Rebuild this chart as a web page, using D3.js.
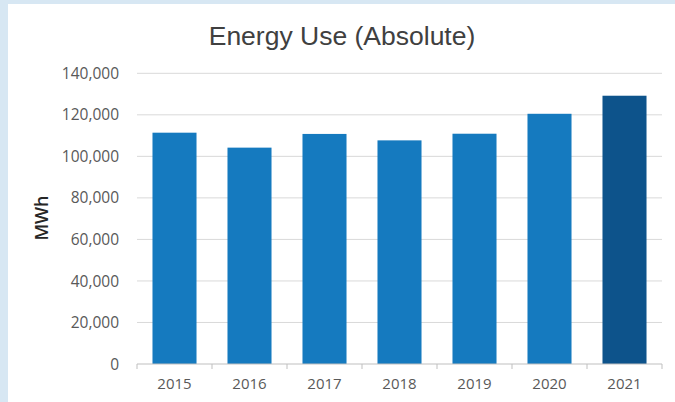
<!DOCTYPE html>
<html>
<head>
<meta charset="utf-8">
<script src="https://cdn.jsdelivr.net/npm/d3@7/dist/d3.min.js"></script>
<style>
  html, body { margin: 0; padding: 0; background: #d7e7f3; }
  svg { display: block; }
</style>
</head>
<body>
<svg id="chart" width="675" height="402"></svg>
<script>
const years = ["2015", "2016", "2017", "2018", "2019", "2020", "2021"];
const energyMWh = [111400, 104200, 110800, 107700, 110900, 120500, 129200];
const yTicks = [0, 20000, 40000, 60000, 80000, 100000, 120000, 140000];
const barColors = ["#157abf", "#157abf", "#157abf", "#157abf", "#157abf", "#157abf", "#0d538b"];
const titleText = "Energy Use (Absolute)";
const yLabel = "MWh";

const svg = d3.select("#chart");
const W = 675, H = 402;

// white panel
svg.append("rect").attr("x", 8).attr("y", 4).attr("width", W - 8).attr("height", H - 4).attr("fill", "#ffffff");

const m = { left: 137, right: 662, top: 73.3, bottom: 364 };

const x = d3.scaleBand().domain(years).range([m.left, m.right]).paddingInner(0.413).paddingOuter(0.2065);
const y = d3.scaleLinear().domain([0, 140000]).range([m.bottom, m.top]);

// gridlines
const grid = svg.append("g");
grid.selectAll("line").data(yTicks.filter(d => d > 0)).join("line")
  .attr("x1", m.left).attr("x2", m.right)
  .attr("y1", d => y(d)).attr("y2", d => y(d))
  .attr("stroke", "#d9d9d9").attr("stroke-width", 1);

// y tick labels
const fmt = d3.format(",");
svg.append("g").selectAll("text").data(yTicks).join("text")
  .attr("x", 119).attr("y", d => y(d)).attr("dy", "0.36em")
  .attr("text-anchor", "end")
  .attr("font-family", "'Open Sans', sans-serif").attr("font-size", 15.5)
  .attr("fill", "#595959")
  .text(d => fmt(d));

// bars
svg.append("g").selectAll("rect").data(years).join("rect")
  .attr("x", d => x(d)).attr("width", x.bandwidth())
  .attr("y", (d, i) => y(energyMWh[i]))
  .attr("height", (d, i) => y(0) - y(energyMWh[i]))
  .attr("fill", (d, i) => barColors[i]);

// x axis
const xAxis = svg.append("g").attr("transform", `translate(0,${m.bottom})`);
xAxis.append("line").attr("x1", m.left).attr("x2", m.right).attr("y1", 0).attr("y2", 0)
  .attr("stroke", "#bfbfbf").attr("stroke-width", 1);
const step = x.step();
const bounds = d3.range(years.length + 1).map(i => m.left + i * step);
xAxis.selectAll("line.tick").data(bounds).join("line").attr("class", "tick")
  .attr("x1", d => d).attr("x2", d => d).attr("y1", 0).attr("y2", 5)
  .attr("stroke", "#bfbfbf").attr("stroke-width", 1);
xAxis.selectAll("text").data(years).join("text")
  .attr("x", d => x(d) + x.bandwidth() / 2).attr("y", 25)
  .attr("text-anchor", "middle")
  .attr("font-family", "'Open Sans', sans-serif").attr("font-size", 15)
  .attr("fill", "#595959")
  .text(d => d);

// title
svg.append("text").attr("x", 342).attr("y", 45)
  .attr("text-anchor", "middle")
  .attr("font-family", "'Liberation Sans', Arial, sans-serif").attr("font-size", 26.5)
  .attr("fill", "#404040")
  .text(titleText);

// y label
svg.append("text")
  .attr("transform", `translate(48,218) rotate(-90)`)
  .attr("text-anchor", "middle")
  .attr("font-family", "'Open Sans', sans-serif").attr("font-size", 18).attr("font-weight", 600)
  .attr("fill", "#262626")
  .text(yLabel);
</script>
</body>
</html>
